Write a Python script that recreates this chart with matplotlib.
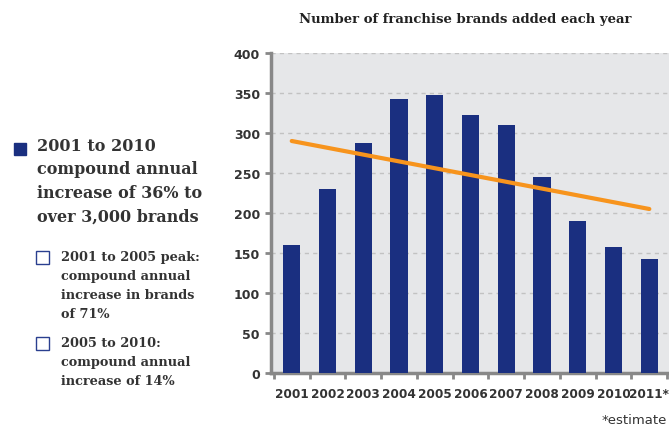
import matplotlib
matplotlib.use("Agg")
import matplotlib.pyplot as plt
from matplotlib.patches import Rectangle

years = ["2001", "2002", "2003", "2004", "2005", "2006", "2007", "2008", "2009", "2010", "2011*"]
brands = [160, 230, 287, 342, 347, 322, 310, 245, 190, 157, 142]
trend_start = 290
trend_end = 205
yticks = [0, 50, 100, 150, 200, 250, 300, 350, 400]

navy = "#1a2f80"
orange = "#f7941d"
W, H = 669, 427
fig = plt.figure(figsize=(W / 100, H / 100), dpi=100)
ax = fig.add_axes([271 / W, 1 - 374 / H, 398 / W, 320 / H])
ax.set_facecolor("#e6e7e9")
x = list(range(len(years)))
ax.bar(x, brands, width=0.48, color=navy, zorder=3)
ax.plot([0, len(years) - 1], [trend_start, trend_end], color=orange, lw=3, solid_capstyle="round", zorder=4)
ax.set_xlim(-0.58, 10.55)
ax.set_ylim(0, 400)
ax.set_yticks(yticks)
ax.set_yticklabels([str(v) for v in yticks], fontsize=9, fontweight="bold", color="#333333")
ax.set_xticks([i + 0.5 for i in range(-1, len(years))], minor=False)
ax.set_xticklabels([])
ax.tick_params(axis="x", length=4, width=2, color="#888888", direction="out")
ax.tick_params(axis="y", length=4, width=2, color="#888888", pad=4)
for i, lab in enumerate(years):
    ax.text(i, -17, lab, ha="center", va="top", fontsize=8.7, fontweight="bold", color="#333333")
ax.grid(axis="y", color="#c2c2c2", ls=(0, (3, 3)), lw=1, zorder=1)
for s in ["top", "right"]:
    ax.spines[s].set_visible(False)
for s in ["left", "bottom"]:
    ax.spines[s].set_color("#888888")
    ax.spines[s].set_linewidth(2.5)

fig.text(465 / W, 1 - 20 / H, "Number of franchise brands added each year", ha="center", va="center",
         fontsize=9.5, fontweight="bold", family="DejaVu Serif", color="#222222")
fig.text(667 / W, 1 - 421 / H, "*estimate", ha="right", va="center", fontsize=9.5, color="#333333")

fig.patches.append(Rectangle((14 / W, 1 - 156 / H), 12 / W, 12 / H, transform=fig.transFigure,
                             facecolor=navy, edgecolor=navy))
fig.text(37 / W, 1 - 138 / H, "2001 to 2010\ncompound annual\nincrease of 36% to\nover 3,000 brands",
         ha="left", va="top", fontsize=11.5, fontweight="bold", family="DejaVu Serif",
         color="#333333", linespacing=1.5)
for yb, txt in [(265, "2001 to 2005 peak:\ncompound annual\nincrease in brands\nof 71%"),
                (351, "2005 to 2010:\ncompound annual\nincrease of 14%")]:
    fig.patches.append(Rectangle((36 / W, 1 - yb / H), 13 / W, 13 / H, transform=fig.transFigure,
                                 facecolor="white", edgecolor="#2a3f8f", lw=1))
    fig.text(61 / W, 1 - (yb - 14) / H, txt, ha="left", va="top", fontsize=9.3, fontweight="bold",
             family="DejaVu Serif", color="#333333", linespacing=1.6)

fig.savefig("out.png", dpi=100)
